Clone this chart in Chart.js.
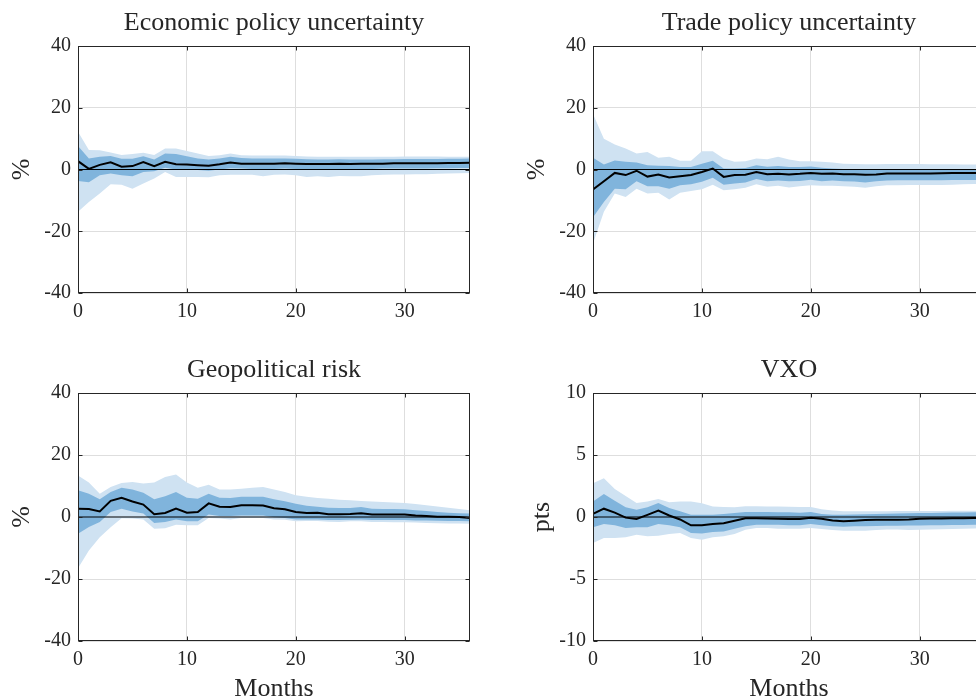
<!DOCTYPE html>
<html>
<head>
<meta charset="utf-8">
<script src="https://cdn.jsdelivr.net/npm/chart.js@4.4.1/dist/chart.umd.min.js"></script>
<style>
  html, body { margin: 0; padding: 0; background: #fff; overflow: hidden; width: 976px; height: 696px; }
  .panel { position: absolute; }
</style>
</head>
<body>
<div class="panel" style="left:-15px; top:0; width:578px; height:345px;"><canvas id="epu"></canvas></div>
<div class="panel" style="left:500px; top:0; width:578px; height:345px;"><canvas id="tpu"></canvas></div>
<div class="panel" style="left:-15px; top:347px; width:578px; height:355px;"><canvas id="gpr"></canvas></div>
<div class="panel" style="left:500px; top:347px; width:578px; height:355px;"><canvas id="vxo"></canvas></div>
<script>
// Horizon (months after the shock)
const months = [0,1,2,3,4,5,6,7,8,9,10,11,12,13,14,15,16,17,18,19,20,21,22,23,24,25,26,27,28,29,30,31,32,33,34,35,36];
const xTicks = [0, 10, 20, 30];
const pctTicks = [-40, -20, 0, 20, 40];
const ptsTicks = [-10, -5, 0, 5, 10];

// Economic policy uncertainty (%)
const epuMedian = [2.7,0.2,1.5,2.3,0.9,1.1,2.4,1.1,2.5,1.7,1.6,1.4,1.2,1.7,2.3,1.9,1.9,1.9,1.9,2.0,1.9,1.8,1.8,1.8,1.9,1.8,1.9,1.9,1.9,2.0,2.0,2.0,2.0,2.0,2.1,2.1,2.2];
const epuHi90 = [12.2,6.3,6.2,5.5,4.7,5.0,5.4,4.7,6.8,6.8,6.0,5.2,4.4,4.6,5.2,4.6,4.5,4.5,4.5,4.5,4.4,4.2,4.1,4.1,4.1,4.1,4.1,4.1,4.1,4.1,4.2,4.2,4.2,4.2,4.1,4.1,4.1];
const epuHi68 = [7.6,3.6,4.1,4.4,3.5,3.5,4.3,3.2,5.2,5.0,4.3,3.6,3.2,3.6,4.1,3.7,3.6,3.6,3.6,3.6,3.5,3.3,3.2,3.2,3.3,3.2,3.2,3.2,3.3,3.3,3.4,3.4,3.4,3.4,3.5,3.5,3.6];
const epuLo68 = [-3.7,-4.1,-1.9,-1.3,-1.9,-2.2,-0.8,-0.6,0.6,0.0,-0.2,-0.2,-0.4,0.0,0.4,0.3,0.2,0.2,0.2,0.3,0.2,0.1,0.1,0.1,0.2,0.2,0.2,0.2,0.3,0.3,0.3,0.3,0.3,0.4,0.4,0.5,0.5];
const epuLo90 = [-13.7,-10.5,-7.8,-4.8,-4.9,-6.2,-4.5,-2.9,-0.8,-2.4,-2.4,-2.4,-2.5,-1.9,-1.7,-1.7,-1.7,-2.2,-1.7,-1.6,-1.9,-2.4,-2.2,-2.4,-2.1,-2.2,-2.2,-1.9,-1.7,-1.6,-1.6,-1.5,-1.5,-1.4,-1.3,-1.2,-1.1];

// Trade policy uncertainty (%)
const tpuMedian = [-6.5,-3.8,-1.1,-1.8,-0.4,-2.3,-1.6,-2.6,-2.2,-1.8,-0.8,0.3,-2.4,-1.8,-1.7,-0.8,-1.5,-1.4,-1.6,-1.4,-1.1,-1.4,-1.3,-1.5,-1.5,-1.7,-1.6,-1.3,-1.3,-1.3,-1.3,-1.3,-1.2,-1.1,-1.1,-1.1,-1.1];
const tpuHi90 = [18.0,10.0,8.1,6.8,5.2,5.7,3.8,4.1,2.8,2.8,5.9,5.9,3.6,2.5,2.7,3.6,3.3,4.1,3.2,2.7,2.7,2.5,2.3,1.9,1.8,1.7,1.7,1.8,1.8,1.8,1.8,1.7,1.7,1.7,1.6,1.6,1.6];
const tpuHi68 = [3.8,1.6,2.9,2.5,2.3,1.4,1.2,1.1,0.8,0.8,1.9,2.8,0.3,0.3,0.5,1.4,0.9,1.1,0.8,0.8,1.0,0.6,0.3,0.2,0.2,0.1,0.1,0.2,0.2,0.2,0.2,0.2,0.2,0.2,0.2,0.2,0.2];
const tpuLo68 = [-15.5,-10.5,-6.2,-6.4,-3.8,-5.4,-5.4,-6.2,-5.1,-4.8,-4.0,-2.7,-4.9,-4.5,-4.2,-3.1,-3.8,-3.6,-3.8,-3.7,-3.3,-3.8,-3.6,-3.8,-3.9,-4.2,-3.8,-3.6,-3.5,-3.5,-3.5,-3.5,-3.5,-3.4,-3.4,-3.4,-3.3];
const tpuLo90 = [-24.0,-13.7,-7.8,-8.9,-6.2,-7.8,-7.5,-9.7,-7.5,-7.0,-6.4,-4.9,-6.7,-6.4,-5.9,-4.8,-5.6,-5.3,-5.8,-5.4,-5.1,-5.3,-5.3,-5.4,-5.6,-5.9,-5.4,-5.1,-5.1,-5.0,-5.0,-5.0,-5.0,-4.9,-4.8,-4.7,-4.6];

// Geopolitical risk (%)
const gprMedian = [2.7,2.6,1.8,5.2,6.2,5.0,4.0,0.9,1.3,2.7,1.4,1.6,4.4,3.3,3.2,3.8,3.8,3.7,2.8,2.5,1.6,1.3,1.4,0.9,0.9,1.0,1.2,0.8,0.8,0.8,0.8,0.5,0.3,0.1,0.1,0.0,-0.3];
const gprHi90 = [13.4,11.1,7.5,9.7,11.0,11.3,10.8,11.1,12.9,13.7,11.1,9.4,10.4,8.9,8.9,9.1,9.4,9.7,8.9,8.1,7.0,6.5,6.1,5.9,5.6,5.4,5.2,5.0,4.8,4.7,4.5,4.2,3.8,3.4,3.0,2.6,2.2];
const gprHi68 = [8.6,7.5,5.7,8.1,9.4,8.9,7.8,5.7,6.7,8.1,6.2,5.9,7.5,6.2,6.1,6.5,6.5,6.5,5.7,5.1,4.3,3.6,3.3,3.0,2.9,2.9,3.2,2.7,2.6,2.6,2.5,2.2,1.9,1.6,1.4,1.2,1.1];
const gprLo68 = [-5.4,-3.2,-1.6,1.6,2.7,1.8,1.1,-1.9,-1.6,-0.8,-1.4,-1.4,0.8,0.3,0.3,0.5,0.5,0.5,-0.1,-0.3,-0.8,-0.8,-0.8,-1.0,-1.0,-0.9,-0.8,-1.0,-1.0,-1.0,-1.0,-1.1,-1.1,-1.2,-1.3,-1.3,-1.4];
const gprLo90 = [-16.5,-10.8,-6.5,-3.3,-0.4,-0.5,-0.8,-3.8,-3.6,-2.5,-2.7,-2.7,-0.3,-0.5,-0.8,-0.3,-0.3,-0.3,-0.8,-0.9,-1.4,-1.3,-1.3,-1.5,-1.6,-1.4,-1.4,-1.6,-1.6,-1.7,-1.7,-1.8,-1.9,-2.0,-2.1,-2.1,-2.2];

// VXO (index points)
const vxoMedian = [0.25,0.67,0.35,-0.05,-0.16,0.17,0.51,0.12,-0.2,-0.67,-0.67,-0.56,-0.5,-0.3,-0.1,-0.1,-0.12,-0.14,-0.16,-0.16,-0.06,-0.14,-0.28,-0.35,-0.3,-0.25,-0.22,-0.22,-0.22,-0.2,-0.15,-0.13,-0.12,-0.1,-0.1,-0.08,-0.08];
const vxoHi90 = [2.72,3.13,2.25,1.7,1.12,1.25,1.45,1.19,1.26,1.26,1.1,0.85,0.8,0.78,0.86,0.86,0.84,0.84,0.82,0.8,0.8,0.62,0.52,0.47,0.47,0.47,0.47,0.47,0.48,0.48,0.48,0.48,0.49,0.5,0.5,0.5,0.5];
const vxoHi68 = [1.26,1.85,1.32,0.78,0.59,0.78,1.13,0.73,0.46,0.19,0.19,0.19,0.24,0.32,0.4,0.4,0.4,0.38,0.38,0.35,0.4,0.24,0.19,0.19,0.2,0.22,0.24,0.26,0.28,0.3,0.32,0.33,0.34,0.36,0.37,0.38,0.38];
const vxoLo68 = [-0.83,-0.56,-0.67,-0.89,-0.83,-0.83,-0.56,-0.67,-0.83,-1.29,-1.34,-1.21,-1.16,-0.94,-0.75,-0.62,-0.62,-0.62,-0.67,-0.67,-0.56,-0.67,-0.75,-0.78,-0.75,-0.75,-0.73,-0.71,-0.7,-0.69,-0.68,-0.67,-0.66,-0.65,-0.64,-0.63,-0.62];
const vxoLo90 = [-2.1,-1.69,-1.69,-1.64,-1.43,-1.56,-1.51,-1.37,-1.29,-1.69,-1.83,-1.64,-1.56,-1.37,-1.02,-0.89,-0.89,-0.94,-0.94,-0.94,-0.89,-0.97,-1.05,-1.1,-1.1,-1.1,-1.05,-1.0,-1.0,-1.05,-1.02,-1.0,-0.98,-0.96,-0.94,-0.92,-0.89];

const FONT = "'Liberation Serif', 'Times New Roman', serif";
const TEXT = '#262626';
const GRID = '#dedede';
const BAND90 = 'rgb(207,226,242)';
const BAND68 = 'rgb(128,180,220)';
const CLEAR = 'rgba(0,0,0,0)';

// Closed axes box with short inward tick marks on all four sides
const axesBox = {
  id: 'axesBox',
  afterDatasetsDraw(chart) {
    const { ctx, chartArea: a, scales: { x, y } } = chart;
    const L = Math.round(a.left) + 0.5, R = Math.round(a.right) - 0.5;
    const T = Math.round(a.top) + 0.5, B = Math.round(a.bottom) - 0.5;
    const len = 4;
    ctx.save();
    ctx.strokeStyle = TEXT;
    ctx.lineWidth = 1;
    ctx.beginPath();
    x.ticks.forEach(t => {
      const px = Math.round(x.getPixelForValue(t.value)) + 0.5;
      ctx.moveTo(px, B); ctx.lineTo(px, B - len);
      ctx.moveTo(px, T); ctx.lineTo(px, T + len);
    });
    y.ticks.forEach(t => {
      const py = Math.round(y.getPixelForValue(t.value)) + 0.5;
      ctx.moveTo(L, py); ctx.lineTo(L + len, py);
      ctx.moveTo(R, py); ctx.lineTo(R - len, py);
    });
    ctx.stroke();
    ctx.strokeRect(L, T, R - L, B - T);
    ctx.restore();
  }
};

function pts(values) {
  return months.map((m, i) => ({ x: m, y: values[i] }));
}

function makePanel(id, cfg) {
  const band = (values, fill, color) => ({
    data: pts(values), fill: fill, backgroundColor: color,
    borderColor: CLEAR, borderWidth: 0, pointRadius: 0, tension: 0
  });
  new Chart(document.getElementById(id), {
    type: 'line',
    data: {
      datasets: [
        { data: pts(cfg.median), borderColor: '#000', borderWidth: 2, pointRadius: 0, fill: false, tension: 0 },
        { data: [{ x: months[0], y: 0 }, { x: months[months.length - 1], y: 0 }],
          borderColor: '#000', borderWidth: 1, pointRadius: 0, fill: false },
        band(cfg.hi68, '+1', BAND68),
        band(cfg.lo68, false, CLEAR),
        band(cfg.hi90, '+1', BAND90),
        band(cfg.lo90, false, CLEAR)
      ]
    },
    options: {
      responsive: true,
      maintainAspectRatio: false,
      animation: false,
      events: [],
      layout: { padding: { left: 0, right: 93, top: 0, bottom: 0 } },
      plugins: {
        legend: { display: false },
        tooltip: { enabled: false },
        title: {
          display: true, text: cfg.title, color: TEXT, fullSize: false,
          font: { family: FONT, size: 26, weight: 'normal', lineHeight: 1.2 },
          padding: { top: 8, bottom: 6.8 }
        }
      },
      scales: {
        x: {
          type: 'linear', min: 0, max: 36,
          afterBuildTicks: s => { s.ticks = xTicks.map(v => ({ value: v })); },
          afterFit: s => { s.height = cfg.xHeight; },
          grid: { color: GRID, lineWidth: 1, drawTicks: false },
          border: { display: false },
          ticks: { color: TEXT, font: { family: FONT, size: 20 }, padding: 7, maxRotation: 0, autoSkip: false },
          title: {
            display: cfg.months, text: 'Months', color: TEXT,
            font: { family: FONT, size: 26, lineHeight: 1 }, padding: 0
          }
        },
        y: {
          type: 'linear', min: cfg.yTicks[0], max: cfg.yTicks[cfg.yTicks.length - 1],
          afterBuildTicks: s => { s.ticks = cfg.yTicks.map(v => ({ value: v })); },
          afterFit: s => { s.width = 93; },
          grid: { color: GRID, lineWidth: 1, drawTicks: false },
          border: { display: false },
          ticks: { color: TEXT, font: { family: FONT, size: 20 }, padding: 7, autoSkip: false },
          title: {
            display: true, text: cfg.yLabel, color: TEXT,
            font: { family: FONT, size: 26, lineHeight: 1 }, padding: { top: cfg.yTitlePad, bottom: 0 }
          }
        }
      }
    },
    plugins: [axesBox]
  });
}

makePanel('epu', { title: 'Economic policy uncertainty', yLabel: '%', yTicks: pctTicks, yTitlePad: 24,
  median: epuMedian, hi90: epuHi90, hi68: epuHi68, lo68: epuLo68, lo90: epuLo90, months: false, xHeight: 52 });
makePanel('tpu', { title: 'Trade policy uncertainty', yLabel: '%', yTicks: pctTicks, yTitlePad: 24,
  median: tpuMedian, hi90: tpuHi90, hi68: tpuHi68, lo68: tpuLo68, lo90: tpuLo90, months: false, xHeight: 52 });
makePanel('gpr', { title: 'Geopolitical risk', yLabel: '%', yTicks: pctTicks, yTitlePad: 24,
  median: gprMedian, hi90: gprHi90, hi68: gprHi68, lo68: gprLo68, lo90: gprLo90, months: true, xHeight: 61 });
makePanel('vxo', { title: 'VXO', yLabel: 'pts', yTicks: ptsTicks, yTitlePad: 29.5,
  median: vxoMedian, hi90: vxoHi90, hi68: vxoHi68, lo68: vxoLo68, lo90: vxoLo90, months: true, xHeight: 61 });
</script>
</body>
</html>
